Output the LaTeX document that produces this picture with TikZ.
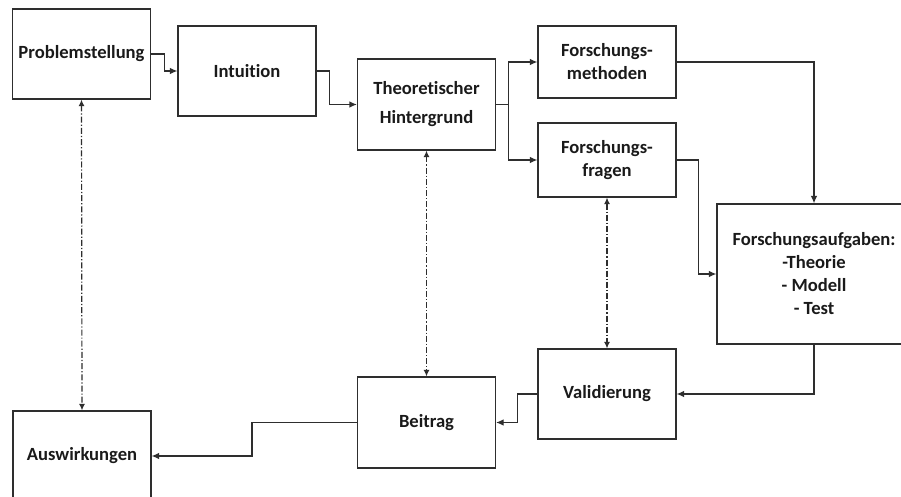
\documentclass[tikz,border=0pt]{standalone}
\usepackage{fontspec}
\setmainfont{Carlito}[Ligatures=NoCommon]
\usetikzlibrary{arrows.meta}
\definecolor{linegray}{HTML}{2E2E2E}
\definecolor{txt}{HTML}{1A1A1A}
\begin{document}
\begin{tikzpicture}[x=1pt,y=-1pt,
  box/.style={draw=linegray, line width=1.2pt, minimum width=138pt, minimum height=90pt,
    inner sep=0pt, align=center, font=\fontsize{18.6}{23}\selectfont\bfseries, text=txt},
  flow/.style={draw=linegray, line width=1.2pt, -{Latex[length=7.5pt,width=6.5pt]}},
  link/.style={draw=linegray, line width=1.2pt, dash pattern=on 6pt off 2pt on 1.2pt off 2pt,
    {Latex[length=6.5pt,width=6pt]}-{Latex[length=6.5pt,width=6pt]}},
]
\clip (0,0) rectangle (901,497);
\fill[white] (0,0) rectangle (901,497);

% boxes
\node[box] (prob) at (81.5,54) {Problemstellung};
\node[box] (intu) at (247,71) {Intuition};
\node[box, minimum height=91pt] (theo) at (426.5,104.5) {Theoretischer\\[6pt]Hintergrund};
\node[box, minimum height=72pt] (meth) at (607,62) {Forschungs-\\methoden};
\node[box, minimum height=74pt] (frag) at (607,160) {Forschungs-\\fragen};
\node[box, minimum width=194pt, minimum height=140pt] (aufg) at (814,274)
  {Forschungsaufgaben:\\-Theorie\\- Modell\\- Test};
\node[box] (vali) at (607,394) {Validierung};
\node[box, minimum height=91pt] (beit) at (426.5,422.5) {Beitrag};
\node[box] (ausw) at (82,456) {Auswirkungen};

% process flow
\draw[flow] (prob.east) -- ++(13,0) |- (intu.west);
\draw[flow] (intu.east) -- ++(13,0) |- (theo.west);
\coordinate (split) at ([xshift=12pt]theo.east);
\draw[linegray, line width=1.2pt] (theo.east) -- (split);
\draw[flow] (split) |- (meth.west);
\draw[flow] (split) |- (frag.west);
\draw[flow] (meth.east) -| (aufg.north);
\draw[flow] (frag.east) -- ++(22,0) |- (aufg.west);
\draw[flow] (aufg.south) |- (vali.east);
\draw[flow] (vali.west) -- ++(-20,0) |- (beit.east);
\draw[flow] (beit.west) -- ++(-105,0) |- (ausw.east);

% mutual relations
\draw[link] (prob.south) -- (ausw.north);
\draw[link] (theo.south) -- (beit.north);
\draw[link] (frag.south) -- (vali.north);
\end{tikzpicture}
\end{document}
